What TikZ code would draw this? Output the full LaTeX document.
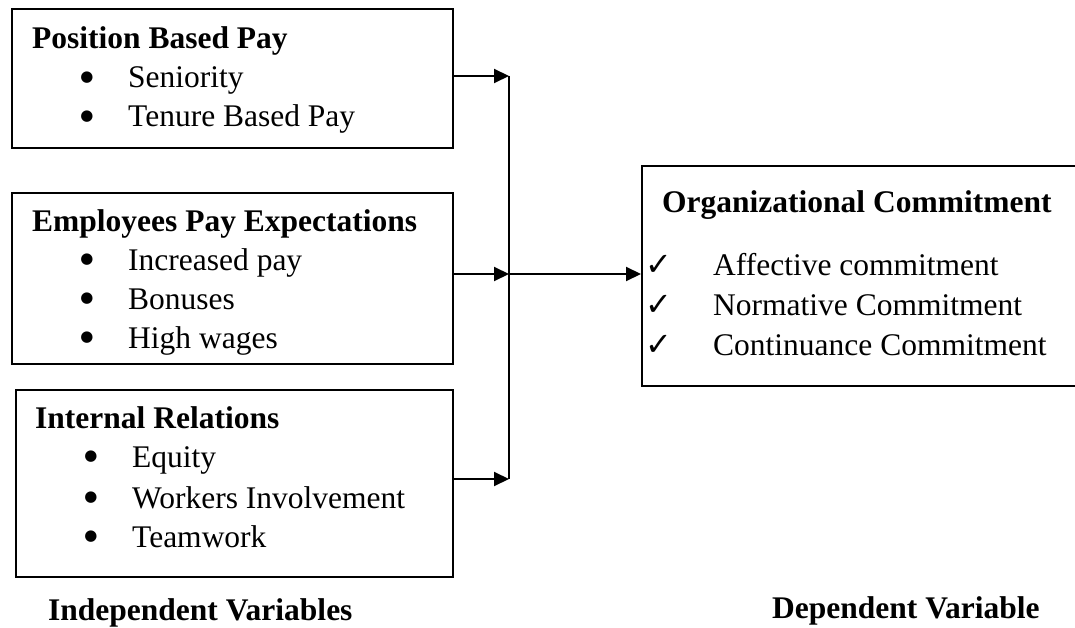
\documentclass[tikz,border=0pt]{standalone}
\usepackage{fontspec}
\setmainfont{Liberation Serif}
\newfontfamily\symfont{DejaVu Sans}
\usetikzlibrary{arrows.meta}
\begin{document}
\begin{tikzpicture}[x=1pt,y=-1pt,
  box/.style={draw,line width=2pt,rectangle,inner sep=0pt,anchor=north west},
  head/.style={anchor=base west,inner sep=0pt,font=\fontsize{31.5}{38}\selectfont\bfseries},
  item/.style={anchor=base west,inner sep=0pt,font=\fontsize{31.5}{38}\selectfont},
  dot/.style={anchor=center,inner sep=0pt,font=\symfont\fontsize{15}{18}\selectfont},
  tick/.style={anchor=center,inner sep=0pt,font=\symfont\fontsize{32}{36}\selectfont},
  link/.style={line width=2pt},
  arr/.style={line width=2pt,-{Triangle[length=15pt,width=14pt]}}]
\useasboundingbox (0,0) rectangle (1075,628);
\clip (0,0) rectangle (1075,628);

% independent variable boxes
\node[box,minimum width=441pt,minimum height=139pt] (pbp) at (11,8) {};
\node[head] (pbpH) at (32,49) {Position Based Pay};
\node[dot] (pb1) at (87,78) {●};
\node[item] (pbt1) at (128,88) {Seniority};
\node[dot] (pb2) at (87,117) {●};
\node[item] (pbt2) at (128,127) {Tenure Based Pay};

\node[box,minimum width=441pt,minimum height=171pt] (epe) at (11,192) {};
\node[head] (epeH) at (32,232) {Employees Pay Expectations};
\node[dot] (ep1) at (87,260) {●};
\node[item] (ept1) at (128,270) {Increased pay};
\node[dot] (ep2) at (87,299) {●};
\node[item] (ept2) at (128,309) {Bonuses};
\node[dot] (ep3) at (87,338) {●};
\node[item] (ept3) at (128,348) {High wages};

\node[box,minimum width=437pt,minimum height=187pt] (ir) at (15,389) {};
\node[head] (irH) at (35,428) {Internal Relations};
\node[dot] (ir1) at (91,457) {●};
\node[item] (irt1) at (132,467) {Equity};
\node[dot] (ir2) at (91,498) {●};
\node[item] (irt2) at (132,508) {Workers Involvement};
\node[dot] (ir3) at (91,537) {●};
\node[item] (irt3) at (132,547) {Teamwork};

% dependent variable box
\node[box,minimum width=444pt,minimum height=220pt] (oc) at (641,165) {};
\node[head] (ocH) at (662,213) {Organizational Commitment};
\node[tick] (oc1) at (659,265) {✓};
\node[item] (oct1) at (713,275) {Affective commitment};
\node[tick] (oc2) at (659,305) {✓};
\node[item] (oct2) at (713,315) {Normative Commitment};
\node[tick] (oc3) at (659,345) {✓};
\node[item] (oct3) at (713,355) {Continuance Commitment};

% captions
\node[head] (indep) at (48,620) {Independent Variables};
\node[head] (dep) at (772,618) {Dependent Variable};

% connectors
\coordinate (j1) at (509,76);
\coordinate (j2) at (509,274);
\coordinate (j3) at (509,479);
\draw[link] (j1) -- (j3);
\draw[arr] (pbp.east |- j1) -- (j1);
\draw[arr] (epe.east |- j2) -- (j2);
\draw[arr] (ir.east |- j3) -- (j3);
\draw[arr] (j2) -- (oc.west |- j2);
\end{tikzpicture}
\end{document}
